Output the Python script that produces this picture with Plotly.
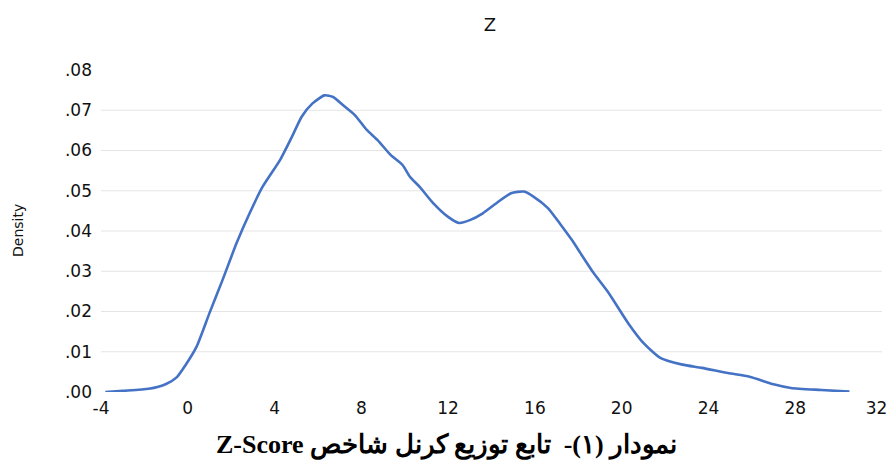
import plotly.graph_objects as go

# Kernel density of Z-Score
z_values = [-3.8, -3.0, -1.8, -1.0, -0.5, -0.1, 0.4, 1.0, 1.6, 2.25, 2.85, 3.45,
            4.25, 4.8, 5.25, 5.75, 6.3, 6.7, 7.15, 7.7, 8.25, 8.75, 9.35, 9.9,
            10.25, 10.7, 11.3, 12.0, 12.5, 13.0, 13.6, 14.3, 14.9, 15.5, 15.95,
            16.6, 17.2, 17.7, 18.1, 18.7, 19.4, 20.3, 21.0, 21.8, 22.8, 23.7,
            24.9, 25.9, 27.0, 27.8, 29.2, 30.5]
density = [0.0, 0.0003, 0.0008, 0.002, 0.0037, 0.0067, 0.0112, 0.0196, 0.0278,
           0.037, 0.0444, 0.051, 0.0576, 0.0634, 0.0684, 0.0717, 0.0737, 0.0733,
           0.0713, 0.0688, 0.0651, 0.0626, 0.0589, 0.0564, 0.0534, 0.0509, 0.047,
           0.0435, 0.042, 0.0427, 0.0444, 0.0472, 0.0494, 0.0498, 0.0485, 0.0457,
           0.0415, 0.0378, 0.0345, 0.0296, 0.0246, 0.0171, 0.0122, 0.0084, 0.0068,
           0.006, 0.0047, 0.0038, 0.0019, 0.001, 0.0005, 0.0001]

x_ticks = [-4, 0, 4, 8, 12, 16, 20, 24, 28, 32]
# the last label is padded so it stays inside the page edge
x_tick_labels = ["-4", "0", "4", "8", "12", "16", "20", "24", "28", "32\u00a0\u00a0"]
y_ticks = [0.00, 0.01, 0.02, 0.03, 0.04, 0.05, 0.06, 0.07, 0.08]
y_tick_labels = [".00", ".01", ".02", ".03", ".04", ".05", ".06", ".07", ".08"]
grid_values = [0.01, 0.02, 0.03, 0.04, 0.05, 0.06, 0.07]

chart_title = "Z"
y_title = "Density"
caption_latin = "Z-Score"
caption_persian = "نمودار (۱)-  تابع توزیع کرنل شاخص"

fig = go.Figure()
fig.add_trace(go.Scatter(
    x=z_values, y=density, mode="lines",
    line=dict(color="#4472C4", width=2.6, shape="spline", smoothing=0.6),
    hoverinfo="x+y", showlegend=False,
))

for g in grid_values:
    fig.add_shape(type="line", xref="paper", yref="y", x0=0, x1=1.0, y0=g, y1=g,
                  line=dict(color="#e4e4e4", width=1), layer="below")

# the page body adds an 8px offset in the 896x464 window
W, H = 888, 456
L, R, T, B = 93, 14, 62, 72
PW = W - L - R
PH = H - T - B

fig.update_layout(
    width=W, height=H,
    margin=dict(l=L, r=R, t=T, b=B),
    paper_bgcolor="white", plot_bgcolor="white",
    font=dict(family="DejaVu Sans", color="#111111"),
    title=dict(text=chart_title, x=(490 - 8) / W, xanchor="center",
               y=1 - (25 - 8) / H, yanchor="middle",
               font=dict(size=18, color="#111111")),
    xaxis=dict(range=[-4, 32], tickvals=x_ticks, ticktext=x_tick_labels,
               showgrid=False, zeroline=False, showline=False, ticks="",
               tickfont=dict(size=17), ticklabelstandoff=4,
               ticklabeloverflow="allow", automargin=False),
    yaxis=dict(range=[0, 0.08], tickvals=y_ticks, ticktext=y_tick_labels,
               showgrid=False, zeroline=False, showline=False, ticks="",
               tickfont=dict(size=17), ticklabelstandoff=8, automargin=False),
    annotations=[
        dict(text=y_title, xref="paper", yref="paper", x=(18 - 8 - L) / PW, y=0.5,
             xanchor="center", yanchor="middle", textangle=-90, showarrow=False,
             font=dict(size=14, color="#111111")),
        dict(text="<b>" + caption_latin + " " + caption_persian + "</b>",
             xref="paper", yref="paper",
             x=(446 - 8 - L) / PW, y=(392 - 445) / PH, xanchor="center",
             yanchor="middle", showarrow=False,
             font=dict(size=26, family="Liberation Serif, DejaVu Serif", color="#000000")),
    ],
)

fig.write_html("out.html")
